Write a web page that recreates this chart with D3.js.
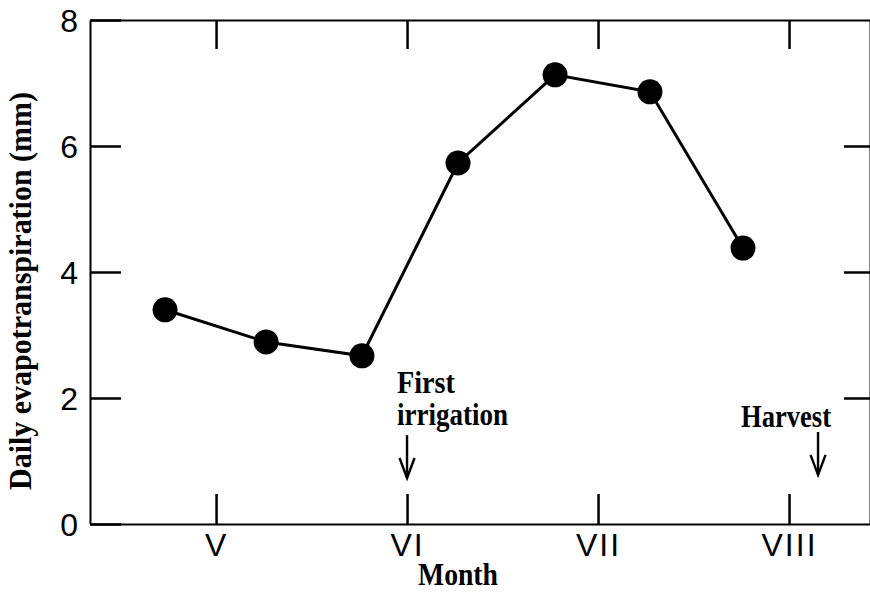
<!DOCTYPE html>
<html>
<head>
<meta charset="utf-8">
<script src="https://cdn.jsdelivr.net/npm/d3@7"></script>
<style>
  html, body { margin: 0; padding: 0; background: #fff; }
  svg { display: block; }
</style>
</head>
<body>
<svg id="chart" width="870" height="596"></svg>
<script>
// ---- data ----
const monthPositions = [4.733, 5.262, 5.764, 6.267, 6.775, 7.272, 7.759];
const evapotranspiration = [3.40, 2.89, 2.67, 5.73, 7.13, 6.86, 4.38];
const monthTicks = [5, 6, 7, 8];
const monthLabels = ["V", "VI", "VII", "VIII"];
const yTicks = [0, 2, 4, 6, 8];
const annotationNames = ["First irrigation", "Harvest"];
const annotationMonths = [6.0, 8.152];
const arrowTops = [1.41, 1.46];
const arrowTips = [0.73, 0.78];

// ---- layout ----
const svg = d3.select("#chart");
const plotLeft = 90, plotRight = 870, plotTop = 20, plotBottom = 524;

const x = d3.scaleLinear().domain([4.34, 8.424]).range([plotLeft, plotRight]);
const y = d3.scaleLinear().domain([0, 8]).range([plotBottom, plotTop]);

const sans = "'Liberation Sans', Arial, sans-serif";
const serif = "'Liberation Serif', 'Times New Roman', serif";

function styleAxis(g) {
  g.select(".domain").attr("stroke", "#000").attr("stroke-width", 2);
  g.selectAll(".tick line").attr("stroke", "#000").attr("stroke-width", 2.5);
  g.selectAll(".tick text").attr("fill", "#000")
    .style("font-family", sans).style("font-size", "32px");
}

// left axis
svg.append("g").attr("transform", `translate(${plotLeft},0)`)
  .call(d3.axisLeft(y).tickValues(yTicks).tickSizeInner(-31).tickSizeOuter(0)
    .tickPadding(12).tickFormat(d3.format("d")))
  .call(styleAxis)
  .call(g => g.selectAll(".tick text").attr("dy", "0.36em"));

// right axis (ticks only)
svg.append("g").attr("transform", `translate(${plotRight},0)`)
  .call(d3.axisRight(y).tickValues([2, 4, 6]).tickSizeInner(-26).tickSizeOuter(0)
    .tickFormat(""))
  .call(styleAxis);

// bottom axis
svg.append("g").attr("transform", `translate(0,${plotBottom})`)
  .call(d3.axisBottom(x).tickValues(monthTicks).tickSizeInner(-30).tickSizeOuter(0)
    .tickPadding(9).tickFormat((d, i) => monthLabels[i]))
  .call(styleAxis)
  .call(g => g.selectAll(".tick text").style("letter-spacing", "2px"));

// top axis
svg.append("g").attr("transform", `translate(0,${plotTop})`)
  .call(d3.axisTop(x).tickValues(monthTicks).tickSizeInner(-29).tickSizeOuter(0)
    .tickFormat(""))
  .call(styleAxis);

// line
const pts = monthPositions.map((m, i) => [m, evapotranspiration[i]]);
svg.append("path")
  .datum(pts)
  .attr("fill", "none")
  .attr("stroke", "#000")
  .attr("stroke-width", 3)
  .attr("d", d3.line().x(d => x(d[0])).y(d => y(d[1])));

svg.selectAll("circle.pt")
  .data(pts)
  .join("circle")
  .attr("class", "pt")
  .attr("cx", d => x(d[0]))
  .attr("cy", d => y(d[1]))
  .attr("r", 12.5)
  .attr("fill", "#000");

// annotations: arrows
annotationMonths.forEach((m, i) => {
  const ax = x(m), y0 = y(arrowTops[i]), y1 = y(arrowTips[i]);
  const g = svg.append("g").attr("stroke", "#000").attr("stroke-width", 2.4)
    .attr("fill", "none");
  g.append("line").attr("x1", ax).attr("x2", ax).attr("y1", y0).attr("y2", y1);
  g.append("path").attr("d", `M${ax - 7.5},${y1 - 20} L${ax},${y1} L${ax + 7.5},${y1 - 20}`);
});

// annotation texts
const annFont = (g, w) => g.style("font-family", serif).style("font-weight", "bold")
  .style("font-size", "31px").attr("fill", "#000")
  .attr("textLength", w).attr("lengthAdjust", "spacingAndGlyphs");

svg.append("text").attr("x", 397).attr("y", 393).text("First").call(annFont, 58);
svg.append("text").attr("x", 397).attr("y", 425).text("irrigation").call(annFont, 111);
svg.append("text").attr("x", 741).attr("y", 427).text(annotationNames[1]).call(annFont, 90);

// axis titles
svg.append("text")
  .attr("x", 418).attr("y", 585)
  .text("Month")
  .call(annFont, 80);

svg.append("text")
  .attr("transform", "translate(31,490) rotate(-90)")
  .text("Daily evapotranspiration (mm)")
  .call(annFont, 398);
</script>
</body>
</html>
